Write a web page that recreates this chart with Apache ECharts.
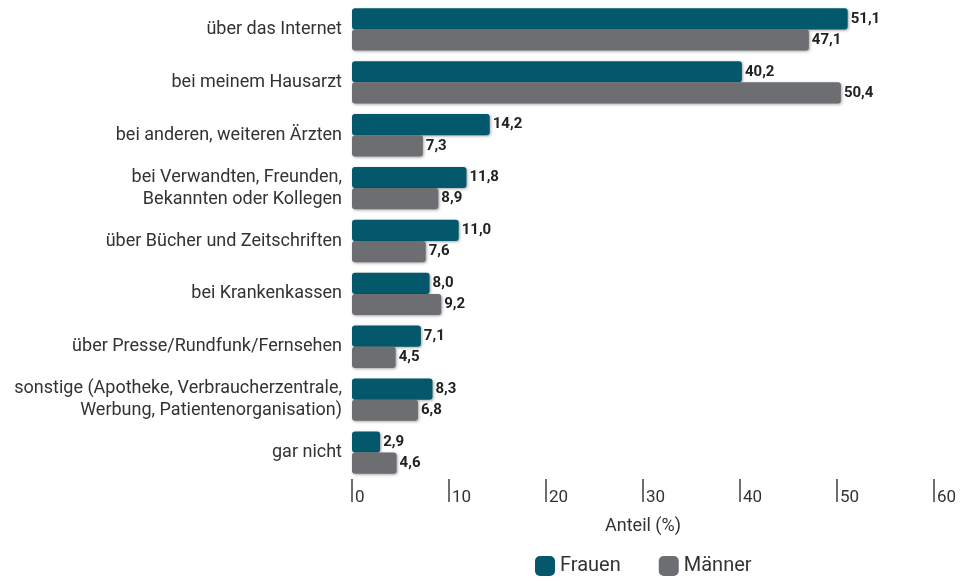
<!DOCTYPE html>
<html>
<head>
<meta charset="utf-8">
<script src="https://cdn.jsdelivr.net/npm/echarts@6/dist/echarts.min.js"></script>
<style>
html, body { margin: 0; padding: 0; background: #fff; }
#chart { width: 963px; height: 581px; }
</style>
</head>
<body>
<div id="chart"></div>
<script>
let categories = [
	"über das Internet",
	"bei meinem Hausarzt",
	"bei anderen, weiteren Ärzten",
	"bei Verwandten, Freunden,\nBekannten oder Kollegen",
	"über Bücher und Zeitschriften",
	"bei Krankenkassen",
	"über Presse/Rundfunk/Fernsehen",
	"sonstige (Apotheke, Verbraucherzentrale,\nWerbung, Patientenorganisation)",
	"gar nicht"
]
let frauen = [51.1, 40.2, 14.2, 11.8, 11.0, 8.0, 7.1, 8.3, 2.9]
let maenner = [47.1, 50.4, 7.3, 8.9, 7.6, 9.2, 4.5, 6.8, 4.6]
let xTicks = [0, 10, 20, 30, 40, 50, 60]

let font = "Roboto"

function fmt(v) {
	return v.toFixed(1).replace(".", ",")
}

function barSeries(name, data, color) {
	return {
		name: name,
		type: "bar",
		data: data,
		barGap: "0%",
		barCategoryGap: "20%",
		itemStyle: {
			color: color,
			borderRadius: 3,
			shadowBlur: 3,
			shadowOffsetX: 1,
			shadowOffsetY: 1,
			shadowColor: "rgba(0,0,0,0.35)"
		},
		label: {
			show: true,
			position: "right",
			distance: 3,
			fontFamily: font,
			fontWeight: "bold",
			fontSize: 15,
			color: "#222",
			formatter: p => fmt(p.value)
		}
	}
}

let chart = echarts.init(document.getElementById("chart"))
let option = {
	animation: false,
	grid: {
		left: 352,
		right: 29,
		top: 3,
		bottom: 102
	},
	xAxis: {
		type: "value",
		min: xTicks[0],
		max: xTicks[xTicks.length - 1],
		interval: 10,
		name: "Anteil (%)",
		nameLocation: "middle",
		nameGap: 38,
		nameTextStyle: {fontFamily: font, fontSize: 18, color: "#333"},
		axisLine: {show: false},
		axisTick: {show: true, length: 23, lineStyle: {color: "#6d6e71", width: 2}},
		splitLine: {show: false},
		axisLabel: {
			fontFamily: font,
			fontSize: 17,
			color: "#333",
			align: "left",
			margin: 10,
			padding: [0, 0, 0, 3]
		}
	},
	yAxis: {
		type: "category",
		data: categories,
		inverse: true,
		axisLine: {show: false},
		axisTick: {show: false},
		axisLabel: {
			fontFamily: font,
			fontSize: 18,
			lineHeight: 22,
			color: "#333",
			margin: 10
		}
	},
	legend: {
		left: 530,
		bottom: 0,
		itemWidth: 20,
		itemHeight: 20,
		itemGap: 38,
		icon: "roundRect",
		textStyle: {fontFamily: font, fontSize: 20, color: "#333"},
		data: ["Frauen", "Männer"]
	},
	series: [
		barSeries("Frauen", frauen, "#03596b"),
		barSeries("Männer", maenner, "#6d6e71")
	]
}
chart.setOption(option)
</script>
</body>
</html>
